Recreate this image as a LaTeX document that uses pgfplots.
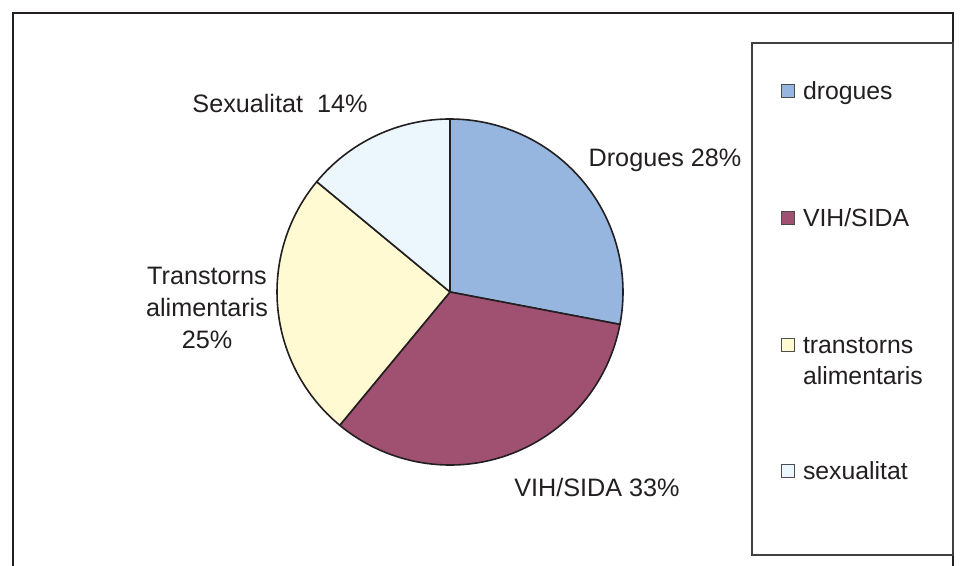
\documentclass[border=0pt]{standalone}
\usepackage{fontspec}
\setmainfont{Liberation Sans}
\usepackage{pgfplots}
\pgfplotsset{compat=1.18}

\definecolor{txt}{HTML}{231F20}
\definecolor{cDrog}{HTML}{96B5DF}
\definecolor{cVih}{HTML}{A05172}
\definecolor{cTrans}{HTML}{FFFAD2}
\definecolor{cSex}{HTML}{EBF6FD}

% #1 cumulative percent before the slice, #2 percent, #3 colour
\newcommand{\slice}[3]{%
  \filldraw[fill=#3, draw=txt, line width=0.8pt, line join=round]
    (axis cs:0,0) -- ++({90-3.6*#1}:86.5pt)
    arc[start angle={90-3.6*#1}, end angle={90-3.6*(#1+#2)}, radius=86.5pt] -- cycle;}

\begin{document}
\begin{tikzpicture}[x=1pt,y=1pt,font=\fontsize{12.6}{16}\selectfont,text=txt]
\useasboundingbox (0,0) rectangle (480,283);
\fill[white] (0,0) rectangle (480,283);

% outer frame (bottom edge cut off)
\draw[txt, line width=1pt] (6.5,0) -- (6.5,276.5) -- (476.5,276.5) -- (476.5,0);

\begin{axis}[at={(225pt,137pt)}, anchor=center,
  width=173pt, height=173pt, scale only axis,
  xmin=-1, xmax=1, ymin=-1, ymax=1,
  hide axis, clip=false]
  % drogues, VIH/SIDA, transtorns alimentaris, sexualitat
  \slice{0}{28}{cDrog}
  \slice{28}{33}{cVih}
  \slice{61}{25}{cTrans}
  \slice{86}{14}{cSex}
\end{axis}

% slice labels
\node at (140,231) {Sexualitat\ \ 14\%};
\node at (332.5,203) {Drogues 28\%};
\node[align=center] at (103.5,129) {Transtorns\\alimentaris\\25\%};
\node at (298.5,39) {VIH/SIDA 33\%};

% legend
\draw[black!75, line width=0.6pt] (376,5.5) rectangle (476.5,261.5);
\foreach \yy/\cc in {237.5/cDrog, 174/cVih, 110.5/cTrans, 47.5/cSex}
  \filldraw[fill=\cc, draw=black!70, line width=0.4pt] (390.5,\yy-3.2) rectangle (397,\yy+3.2);
\begin{scope}[font=\fontsize{12.4}{16}\selectfont]
\node[anchor=base west, inner sep=0pt] at (401.3,233.3) {drogues};
\node[anchor=base west, inner sep=0pt] at (401.3,169.8) {VIH/SIDA};
\node[anchor=base west, inner sep=0pt] at (401.3,106.3) {transtorns};
\node[anchor=base west, inner sep=0pt] at (401.3,90.8) {alimentaris};
\node[anchor=base west, inner sep=0pt] at (401.3,43.3) {sexualitat};
\end{scope}
\end{tikzpicture}
\end{document}
